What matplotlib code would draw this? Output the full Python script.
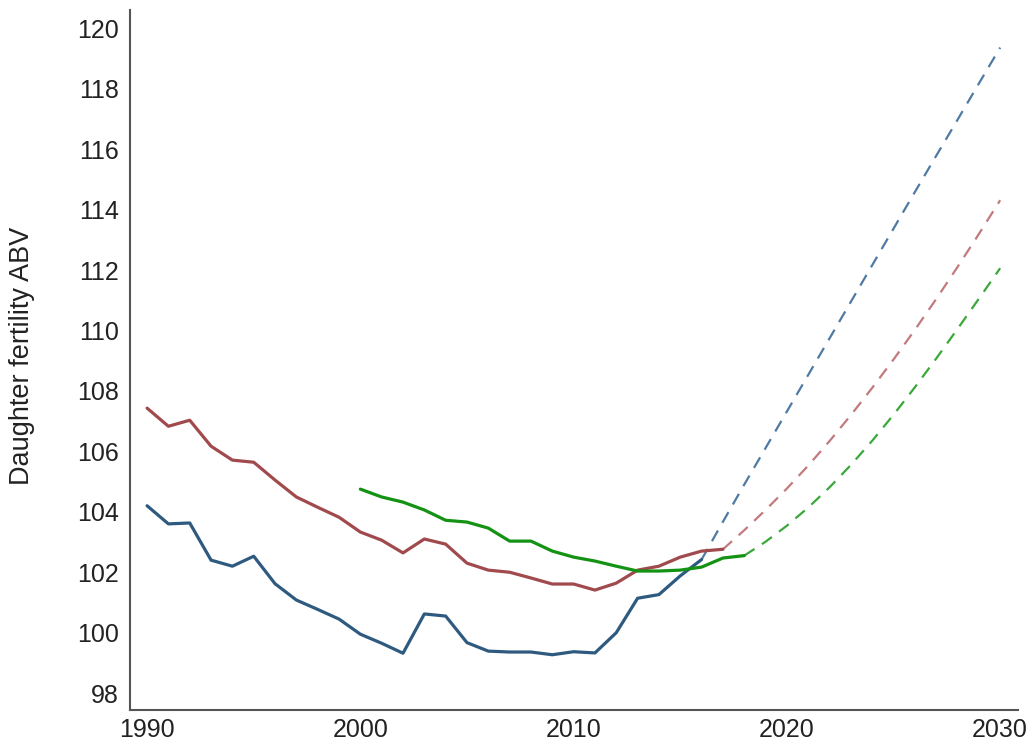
import matplotlib
matplotlib.use("Agg")
import matplotlib.pyplot as plt

plt.rcParams['font.family'] = ['Liberation Sans', 'DejaVu Sans']

# Observed (solid) series
years_blue = list(range(1990, 2017))
blue = [104.2, 103.6, 103.63, 102.4, 102.2, 102.53, 101.62, 101.08, 100.77, 100.45,
        99.95, 99.65, 99.32, 100.62, 100.55, 99.67, 99.39, 99.36, 99.36, 99.27,
        99.37, 99.33, 100.0, 101.14, 101.26, 101.88, 102.42]

years_red = list(range(1990, 2018))
red = [107.43, 106.83, 107.03, 106.17, 105.71, 105.64, 105.05, 104.49, 104.15, 103.82,
       103.33, 103.06, 102.64, 103.1, 102.93, 102.3, 102.07, 102.0, 101.81, 101.61,
       101.61, 101.41, 101.64, 102.07, 102.2, 102.5, 102.7, 102.76]

years_green = list(range(2000, 2019))
green = [104.75, 104.49, 104.32, 104.06, 103.72, 103.66, 103.46, 103.03, 103.03, 102.7,
         102.5, 102.37, 102.2, 102.04, 102.04, 102.07, 102.17, 102.47, 102.55]

# Projected (dashed) series
proj_years_blue = list(range(2016, 2031))
proj_blue = [102.42, 103.67, 104.9, 106.11, 107.32, 108.53, 109.74, 110.95, 112.16,
             113.37, 114.58, 115.78, 116.97, 118.17, 119.36]

proj_years_red = list(range(2017, 2031))
proj_red = [102.76, 103.39, 104.06, 104.77, 105.53, 106.34, 107.2, 108.1, 109.04,
            110.02, 111.04, 112.1, 113.19, 114.31]

proj_years_green = list(range(2018, 2031))
proj_green = [102.55, 103.01, 103.54, 104.14, 104.81, 105.55, 106.35, 107.21, 108.12,
              109.07, 110.05, 111.05, 112.06]

x_ticks = [1990, 2000, 2010, 2020, 2030]
y_ticks = list(range(98, 121, 2))
y_label = "Daughter fertility ABV"

c_blue, c_red, c_green = "#2f5a80", "#a04a4d", "#139213"
c_blue_d, c_red_d, c_green_d = "#4f7aa3", "#c27a7d", "#3aa83a"

fig = plt.figure(figsize=(10.36, 7.49), dpi=100)
ax = fig.add_axes([0.1255, 0.052, 0.857, 0.9345])

ax.plot(years_blue, blue, color=c_blue, lw=2.3, solid_capstyle='round', zorder=3)
ax.plot(years_red, red, color=c_red, lw=2.3, solid_capstyle='round', zorder=3)
ax.plot(years_green, green, color=c_green, lw=2.3, solid_capstyle='round', zorder=4)

dash = (0, (5.5, 4))
ax.plot(proj_years_blue, proj_blue, color=c_blue_d, lw=1.6, linestyle=dash, zorder=2)
ax.plot(proj_years_red, proj_red, color=c_red_d, lw=1.6, linestyle=dash, zorder=2)
ax.plot(proj_years_green, proj_green, color=c_green_d, lw=1.6, linestyle=dash, zorder=2)

ax.set_xlim(1989.2, 2030.83)
ax.set_ylim(97.44, 120.6)
ax.set_xticks(x_ticks)
ax.set_yticks(y_ticks)
ax.tick_params(axis='both', length=0, labelsize=18, colors='#222222')
ax.tick_params(axis='y', pad=8)
ax.tick_params(axis='x', pad=6)

for s in ['top', 'right']:
    ax.spines[s].set_visible(False)
for s in ['left', 'bottom']:
    ax.spines[s].set_color('#555555')
    ax.spines[s].set_linewidth(1.5)

ax.set_ylabel(y_label, fontsize=19.5, color='#222222')
ax.yaxis.label.set_va('center')
ax.yaxis.set_label_coords(-0.1216, 0.506)

fig.savefig("out.png", dpi=100, facecolor='white')
